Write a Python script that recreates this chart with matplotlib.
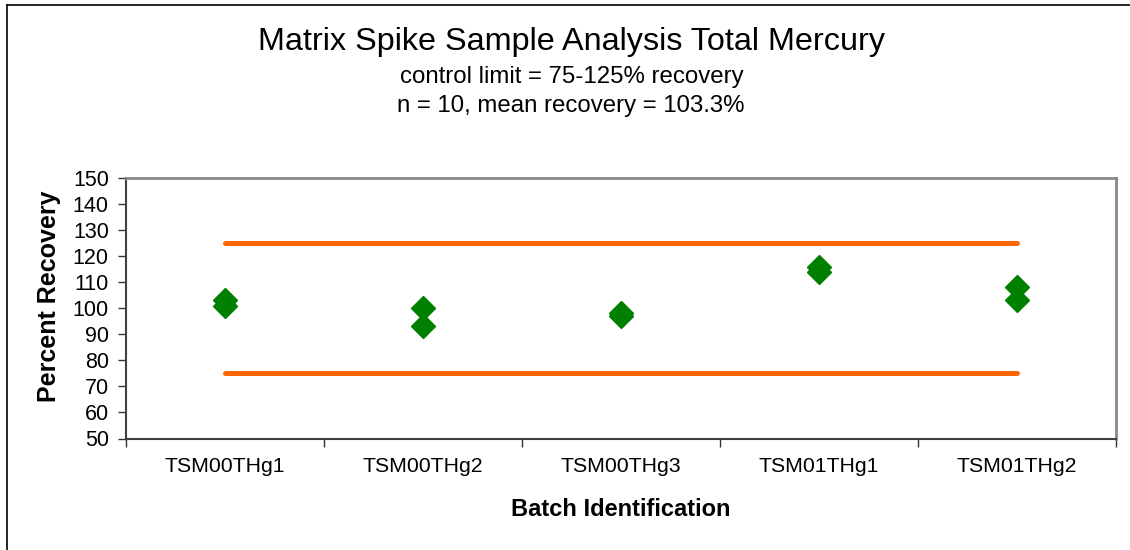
import numpy as np
import matplotlib.pyplot as plt
from matplotlib.lines import Line2D

plt.rcParams["font.family"] = ["Liberation Sans", "DejaVu Sans"]

# 批次与回收率数据
batches = ["TSM00THg1", "TSM00THg2", "TSM00THg3", "TSM01THg1", "TSM01THg2"]
recovery_a = [103, 100, 98, 116, 108]
recovery_b = [101, 93, 97, 114, 103]
upper_limit = [125, 125, 125, 125, 125]
lower_limit = [75, 75, 75, 75, 75]

W, H = 1130, 550
fig = plt.figure(figsize=(W / 100, H / 100), dpi=100)
ax = fig.add_axes([125.5 / W, 1 - 438.5 / H, (1116 - 125.5) / W, (438.5 - 178) / H])

x = np.arange(1, len(batches) + 1)
ax.plot(x, upper_limit, color="#FF6600", lw=3.6, solid_capstyle="round")
ax.plot(x, lower_limit, color="#FF6600", lw=3.6, solid_capstyle="round")
ax.plot(x, recovery_a, "D", color="#008000", ms=12, mec="#008000", ls="none")
ax.plot(x, recovery_b, "D", color="#008000", ms=12, mec="#008000", ls="none")

ax.set_xlim(0.5, len(batches) + 0.5)
ax.set_ylim(50, 150)
ax.set_yticks(np.arange(50, 151, 10))
ax.set_xticks(np.arange(0.5, len(batches) + 1, 1))
ax.set_xticklabels([])
ax.set_xticks(x, minor=True)
ax.set_xticklabels(batches, minor=True)
ax.tick_params(axis="x", which="minor", length=0, pad=13, labelsize=15.3)
ax.tick_params(axis="x", which="major", length=6, width=1, color="#333333")
ax.tick_params(axis="y", length=6, width=1, labelsize=15.5, pad=6, color="#333333")

for s in ["top", "right"]:
    ax.spines[s].set_color("#888888")
    ax.spines[s].set_linewidth(2)
for s in ["left", "bottom"]:
    ax.spines[s].set_color("#404040")
    ax.spines[s].set_linewidth(1.5)

fig.text(621 / W, 1 - 509 / H, "Batch Identification", fontsize=17,
         fontweight="bold", ha="center", va="center")
fig.text(49 / W, 1 - 296 / H, "Percent Recovery", rotation=90, fontsize=18,
         fontweight="bold", ha="center", va="center")

fig.text(572 / W, 1 - 42 / H, "Matrix Spike Sample Analysis Total Mercury",
         fontsize=23.3, ha="center", va="center")
fig.text(572 / W, 1 - 77 / H, "control limit = 75-125% recovery",
         fontsize=17.3, ha="center", va="center")
fig.text(571 / W, 1 - 106 / H, "n = 10, mean recovery = 103.3%",
         fontsize=17.3, ha="center", va="center")

# 外框
fig.add_artist(Line2D([6.5 / W, 6.5 / W], [0, 1 - 4.5 / H], color="black", lw=1.2))
fig.add_artist(Line2D([6.5 / W, 1], [1 - 4.5 / H, 1 - 4.5 / H], color="black", lw=1.2))

plt.savefig("out.png", dpi=100)
